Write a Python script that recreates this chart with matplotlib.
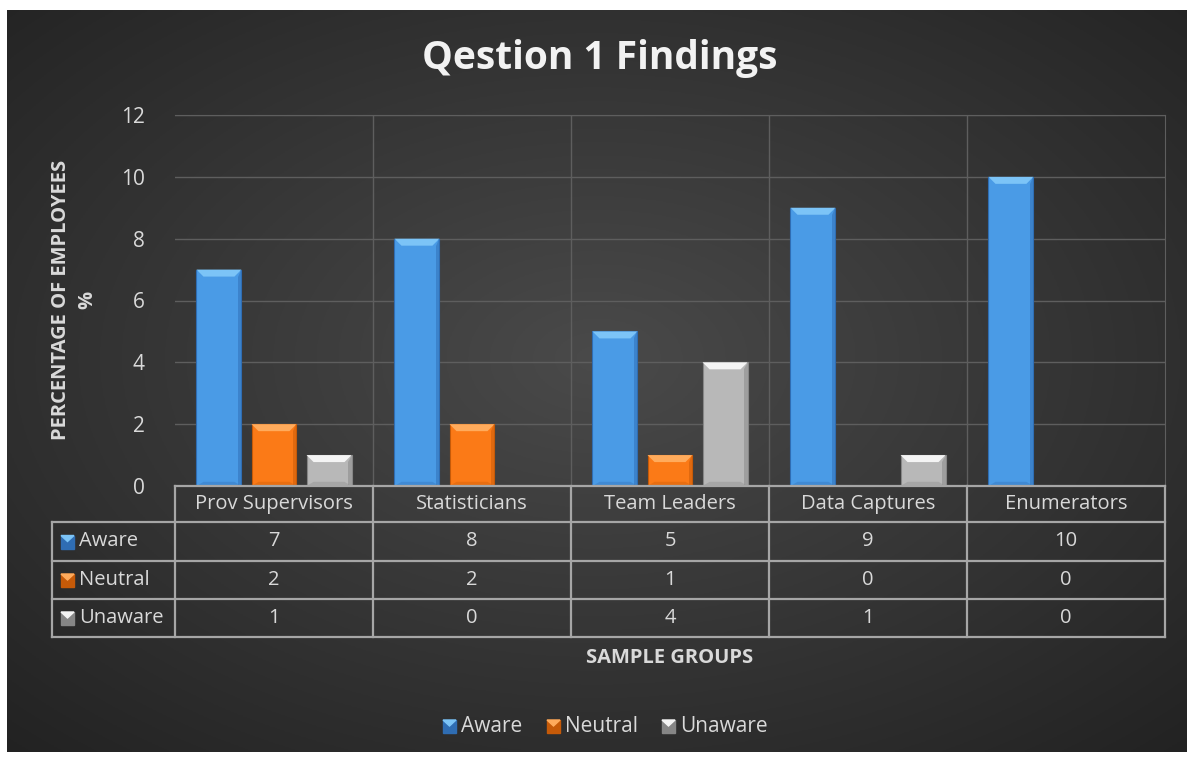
import numpy as np
import matplotlib.pyplot as plt
from matplotlib.patches import Polygon, Rectangle

plt.rcParams['font.family'] = ['Open Sans', 'DejaVu Sans']

title = "Qestion 1 Findings"
groups = ["Prov Supervisors", "Statisticians", "Team Leaders", "Data Captures", "Enumerators"]
series = ["Aware", "Neutral", "Unaware"]
aware = [7, 8, 5, 9, 10]
neutral = [2, 2, 1, 0, 0]
unaware = [1, 0, 4, 1, 0]
values = [aware, neutral, unaware]
yticks = [0, 2, 4, 6, 8, 10, 12]

# main, top bevel, right/bottom shade
colors = {
    "Aware": ("#4a9be6", "#7cc4f7", "#2f6db3"),
    "Neutral": ("#fb7a17", "#ffab5c", "#c65a08"),
    "Unaware": ("#b8b8b8", "#f4f4f4", "#868686"),
}
text_c = "#d9d9d9"
line_c = "#a6a6a6"

W, H = 1187, 758
fig = plt.figure(figsize=(W / 100, H / 100), dpi=100)
fig.patch.set_facecolor("white")

# dark radial background
bg = fig.add_axes([7 / W, 6 / H, (W - 7) / W, (752 - 10) / H])
yy, xx = np.mgrid[0:1:300j, 0:1:480j]
r = np.sqrt(((xx - 0.5) / 0.75) ** 2 + ((yy - 0.47) / 0.75) ** 2)
shade = 0.29 - 0.16 * np.clip(r, 0, 1)
bg.imshow(np.dstack([shade] * 3), aspect="auto", extent=[0, 1, 0, 1])
bg.axis("off")

# plot area
x0, x1, ytop, ybot = 175, 1165, 115, 486
ax = fig.add_axes([x0 / W, 1 - ybot / H, (x1 - x0) / W, (ybot - ytop) / H])
ax.set_facecolor("none")
ax.set_xlim(0, len(groups))
ax.set_ylim(0, 12)
ax.set_yticks(yticks)
ax.set_xticks([])
ax.tick_params(axis="y", length=0, colors=text_c, labelsize=15, pad=22)
for lab in ax.get_yticklabels():
    lab.set_color(text_c)
for s in ["left", "bottom"]:
    ax.spines[s].set_visible(False)
for s in ["top", "right"]:
    ax.spines[s].set_color("#5e5e5e")
ax.grid(axis="y", color="#5e5e5e", lw=1)
for i in range(1, len(groups)):
    ax.axvline(i, color="#5e5e5e", lw=1)

bw = 0.227
step = 0.278
xs = np.arange(len(groups)) + 0.5
px_x = (x1 - x0) / len(groups)
px_y = (ybot - ytop) / 12.0
dx, dy = 7 / px_x, 7 / px_y
for k, name in enumerate(series):
    main, top, dark = colors[name]
    bars = ax.bar(xs + (k - 1) * step, values[k], width=bw, color=main,
                  edgecolor=dark, linewidth=0.8, zorder=3)
    for b in bars:
        h = b.get_height()
        if h <= 0:
            continue
        bx, w = b.get_x(), b.get_width()
        ax.add_patch(Polygon([(bx, h), (bx + w, h), (bx + w - dx, h - dy), (bx + dx, h - dy)],
                             closed=True, color=top, lw=0, zorder=4))
        ax.add_patch(Polygon([(bx + w, h), (bx + w, 0), (bx + w - dx * 0.5, 0),
                              (bx + w - dx * 0.5, h - dy)],
                             closed=True, color=dark, alpha=0.5, lw=0, zorder=4))
        ax.add_patch(Polygon([(bx, 0), (bx + w, 0), (bx + w - dx, dy * 0.6), (bx + dx, dy * 0.6)],
                             closed=True, color=dark, alpha=0.35, lw=0, zorder=4))

# overlay in pixel coordinates for table, labels, legend
ov = fig.add_axes([0, 0, 1, 1])
ov.set_xlim(0, W)
ov.set_ylim(H, 0)
ov.axis("off")
ov.set_facecolor("none")

t = ov.text(600, 58, title, ha="center", va="center", fontsize=28, fontweight="bold",
            color="#f2f2f2")
ov.text(61, 300, "PERCENTAGE OF EMPLOYEES", rotation=90, ha="center", va="center",
        fontsize=14.5, fontweight="bold", color=text_c)
ov.text(87, 300, "%", rotation=90, ha="center", va="center",
        fontsize=14.5, fontweight="bold", color=text_c)
ov.text(670, 658, "SAMPLE GROUPS", ha="center", va="center",
        fontsize=14.5, fontweight="bold", color=text_c)

# data table
rows_y = [486, 522, 561, 599, 637]
lx = 52
lw_t = 1.6
ov.plot([x0, x1], [rows_y[0]] * 2, color=line_c, lw=lw_t)
for y in rows_y[1:]:
    ov.plot([lx, x1], [y, y], color=line_c, lw=lw_t)
ov.plot([lx, lx], [rows_y[1], rows_y[-1]], color=line_c, lw=lw_t)
for i in range(len(groups) + 1):
    xc = x0 + i * px_x
    ov.plot([xc, xc], [rows_y[0], rows_y[-1]], color=line_c, lw=lw_t)
for i, g in enumerate(groups):
    ov.text(x0 + (i + 0.5) * px_x, (rows_y[0] + rows_y[1]) / 2, g, ha="center", va="center",
            fontsize=14.5, color=text_c)
for k, name in enumerate(series):
    yc = (rows_y[k + 1] + rows_y[k + 2]) / 2
    main, top, dark = colors[name]
    ov.add_patch(Rectangle((61, yc - 6), 13, 13, color=dark))
    ov.add_patch(Polygon([(61, yc - 6), (74, yc - 6), (67.5, yc)], closed=True, color=top))
    ov.text(79, yc, name, ha="left", va="center", fontsize=14.5, color=text_c)
    for i, v in enumerate(values[k]):
        ov.text(x0 + (i + 0.5) * px_x, yc, str(v), ha="center", va="center",
                fontsize=14.5, color=text_c)

# legend
leg_x = [443, 547, 662]
for k, name in enumerate(series):
    main, top, dark = colors[name]
    ly = 726
    ov.add_patch(Rectangle((leg_x[k], ly - 6), 13, 13, color=dark))
    ov.add_patch(Polygon([(leg_x[k], ly - 6), (leg_x[k] + 13, ly - 6), (leg_x[k] + 6.5, ly)],
                         closed=True, color=top))
    ov.text(leg_x[k] + 18, ly, name, ha="left", va="center", fontsize=15, color=text_c)

fig.savefig("out.png", dpi=100)
